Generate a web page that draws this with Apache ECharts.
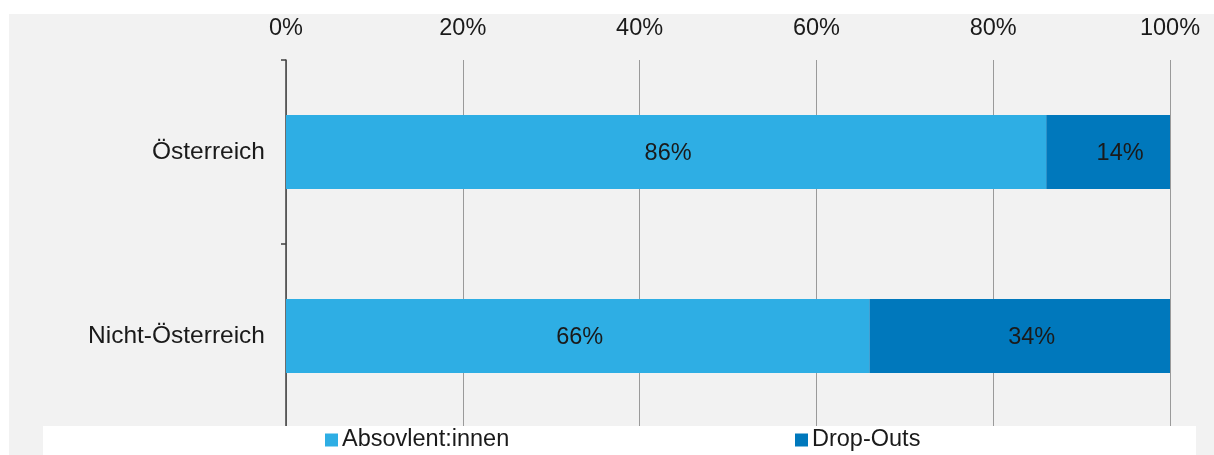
<!DOCTYPE html>
<html><head><meta charset="utf-8">
<script src="https://cdn.jsdelivr.net/npm/echarts@6/dist/echarts.min.js"></script>
<style>html,body{margin:0;padding:0;background:#fff;}#c{width:1214px;height:455px;}</style>
</head><body><div id="c"></div>
<script>
const categories = ['Österreich', 'Nicht-Österreich'];
const seriesNames = ['Absovlent:innen', 'Drop-Outs'];
const absolventen = [86, 66];
const dropOuts = [14, 34];
const tickLabels = ['0%', '20%', '40%', '60%', '80%', '100%'];

const FONT = '"Liberation Sans", Arial, sans-serif';
const FS = 23.5;
const chart = echarts.init(document.getElementById('c'), null, {renderer: 'canvas'});
chart.setOption({
  animation: false,
  backgroundColor: '#ffffff',
  textStyle: {fontFamily: FONT},
  graphic: [
    {type: 'rect', z: -10, silent: true, shape: {x: 9, y: 14, width: 1205, height: 441}, style: {fill: '#f2f2f2'}},
    {type: 'rect', z: 100, silent: true, shape: {x: 43, y: 426, width: 1153, height: 29}, style: {fill: '#ffffff'}}
  ],
  grid: {left: 286, right: 44, top: 60, bottom: 27, containLabel: false},
  xAxis: {
    type: 'value', position: 'top', min: 0, max: 100, interval: 20,
    axisLine: {show: false}, axisTick: {show: false},
    axisLabel: {margin: 19, fontSize: FS, color: '#1a1a1a', fontFamily: FONT,
      formatter: v => tickLabels[Math.round(v / 20)]},
    splitLine: {show: true, lineStyle: {color: '#9a9a9a', width: 1}}
  },
  yAxis: {
    type: 'category', data: categories, inverse: true,
    axisLine: {show: true, lineStyle: {color: '#404040', width: 1.5}},
    axisTick: {show: true, length: 5, lineStyle: {color: '#404040', width: 1.5}},
    axisLabel: {margin: 21, fontSize: 24.5, color: '#1a1a1a', fontFamily: FONT}
  },
  legend: [
    {data: [seriesNames[0]], left: 325, top: 428, itemWidth: 13, itemHeight: 13, itemGap: 5, padding: 0, z: 200,
      icon: 'rect', textStyle: {fontSize: FS, color: '#1a1a1a', fontFamily: FONT, padding: [0, 0, 0, -1]}},
    {data: [seriesNames[1]], left: 795, top: 428, itemWidth: 13, itemHeight: 13, itemGap: 5, padding: 0, z: 200,
      icon: 'rect', textStyle: {fontSize: FS, color: '#1a1a1a', fontFamily: FONT, padding: [0, 0, 0, -1]}}
  ],
  series: [
    {name: seriesNames[0], type: 'bar', stack: 'total', data: absolventen, barWidth: 74,
      itemStyle: {color: '#2eaee4'},
      label: {show: true, position: 'inside', formatter: '{c}%', fontSize: FS, color: '#1a1a1a', fontFamily: FONT, offset: [2, 2]}},
    {name: seriesNames[1], type: 'bar', stack: 'total', data: dropOuts, barWidth: 74,
      itemStyle: {color: '#0078bc'},
      label: {show: true, position: 'inside', formatter: '{c}%', fontSize: FS, color: '#1a1a1a', fontFamily: FONT, offset: [12, 2]}}
  ]
});
</script></body></html>
